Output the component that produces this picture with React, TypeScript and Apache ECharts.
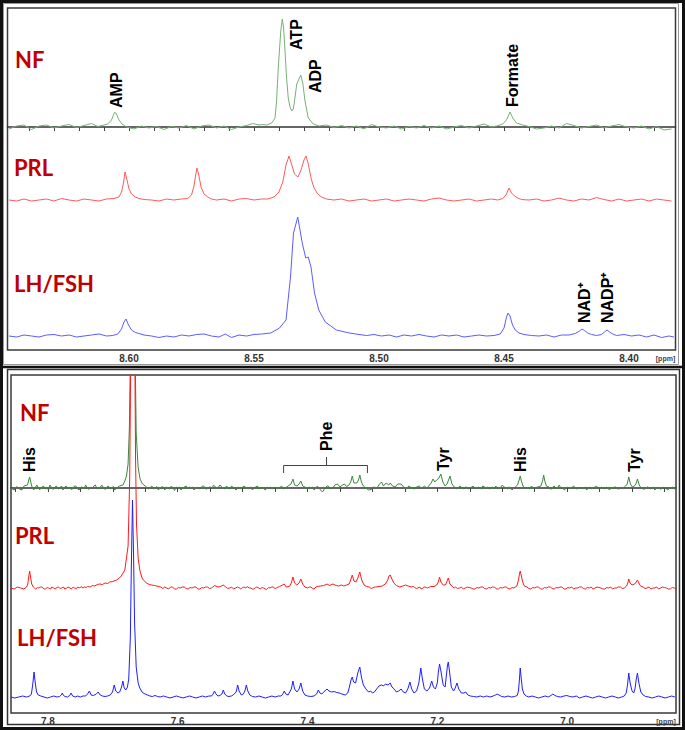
import React, { useEffect, useRef } from "react";
import * as echarts from "echarts";

// ---------- axis ticks & labels ----------
const topTickValues = [8.64, 8.63, 8.62, 8.61, 8.6, 8.59, 8.58, 8.57, 8.56, 8.55, 8.54, 8.53, 8.52, 8.51, 8.5, 8.49, 8.48, 8.47, 8.46, 8.45, 8.44, 8.43, 8.42, 8.41, 8.4, 8.39];
const topLabelValues = [8.6, 8.55, 8.5, 8.45, 8.4];
const bottomTickValues = [7.85, 7.8, 7.75, 7.7, 7.65, 7.6, 7.55, 7.5, 7.45, 7.4, 7.35, 7.3, 7.25, 7.2, 7.15, 7.1, 7.05, 7.0, 6.95, 6.9, 6.85];
const bottomLabelValues = [7.8, 7.6, 7.4, 7.2, 7.0];

const sampleNames = ["NF", "PRL", "LH/FSH"];

// ---------- spectra: flat [ppm, intensity, ppm, intensity, ...] ----------
const nfTop = [8.648,-2, 8.645,1, 8.642,2, 8.639,-2.5, 8.636,1, 8.633,2, 8.630,-1, 8.627,1, 8.624,2.5, 8.621,-0.5, 8.618,1.5, 8.615,3.5, 8.6125,0.5, 8.610,2, 8.6085,3, 8.607,7, 8.6058,14.5, 8.6052,14, 8.604,7, 8.6028,3, 8.601,0, 8.598,-2, 8.595,1, 8.592,-1, 8.589,0.5, 8.586,-2.5, 8.583,0.5, 8.580,-1, 8.577,1.5, 8.574,-2, 8.571,1, 8.568,2, 8.565,-1, 8.562,1, 8.559,-2.5, 8.556,0, 8.553,1.5, 8.5505,3.5, 8.548,2, 8.5465,2.5, 8.5449,2, 8.5429,4, 8.5416,9, 8.541,25, 8.5403,59, 8.5393,96, 8.5387,108, 8.5382,100, 8.5376,76, 8.537,50, 8.5363,29, 8.5356,20, 8.5349,16, 8.5343,18, 8.5339,24, 8.5329,43, 8.5313,52, 8.5305,44, 8.5296,26, 8.5283,9, 8.5263,3, 8.524,1, 8.521,2, 8.518,-0.5, 8.515,1.5, 8.512,-1, 8.509,1, 8.506,-2, 8.503,2.5, 8.500,0, 8.497,-1, 8.494,1, 8.491,-2, 8.488,0.5, 8.485,-1, 8.482,1.5, 8.479,-1, 8.476,1, 8.473,-2, 8.470,0, 8.467,1.5, 8.464,-1, 8.461,1, 8.458,3, 8.455,0, 8.453,1, 8.4505,3, 8.449,7, 8.4476,15, 8.4465,9, 8.445,4, 8.4425,2, 8.440,0.5, 8.437,-2, 8.434,-1, 8.431,1, 8.428,-1, 8.425,3.5, 8.422,1.5, 8.419,-1, 8.416,0.5, 8.413,2, 8.410,-1, 8.407,1, 8.404,2.5, 8.401,0, 8.398,-1, 8.395,1, 8.392,-2, 8.389,0.5, 8.386,-3, 8.383,-2];

const prlTop = [8.648,0, 8.645,-1, 8.642,1, 8.639,-1, 8.636,0, 8.633,1, 8.630,-1, 8.627,1.5, 8.624,0, 8.621,-1, 8.618,1, 8.615,0, 8.612,-1, 8.609,1, 8.606,1.5, 8.604,3, 8.603,8, 8.6022,17, 8.6016,28, 8.6008,20, 8.600,11, 8.599,6, 8.5975,3, 8.596,1.5, 8.594,0.5, 8.591,0, 8.588,-1, 8.585,1, 8.582,0, 8.579,1, 8.5765,1.5, 8.575,5, 8.574,14, 8.5734,24, 8.5728,32, 8.572,24, 8.5712,13, 8.570,6, 8.5685,3, 8.567,1, 8.565,0, 8.562,1, 8.559,-1, 8.556,1, 8.553,1.5, 8.550,0, 8.547,1, 8.5445,1, 8.542,3, 8.540,8, 8.5385,18, 8.5372,35, 8.536,44, 8.535,36, 8.5338,26, 8.5324,23, 8.5312,30, 8.530,40, 8.5292,44, 8.5283,36, 8.5272,22, 8.526,12, 8.5245,6, 8.523,3, 8.521,1, 8.518,0, 8.515,1, 8.512,-1, 8.509,0, 8.506,1, 8.503,-1, 8.500,0, 8.497,1, 8.494,-1, 8.491,0, 8.488,1, 8.485,0, 8.482,-1, 8.479,1, 8.476,2, 8.473,0, 8.470,-1, 8.467,0, 8.464,1, 8.461,-1, 8.458,0, 8.455,1, 8.4525,0, 8.4505,1.5, 8.4492,5, 8.448,12, 8.447,7, 8.4458,4, 8.4445,2, 8.443,0.5, 8.440,0, 8.437,1, 8.434,-1, 8.431,0, 8.428,2, 8.425,0, 8.422,-1, 8.419,1, 8.416,0, 8.413,2.5, 8.410,0.5, 8.407,-1, 8.404,1, 8.401,-1, 8.398,0, 8.395,1, 8.392,-1, 8.389,1, 8.386,0, 8.383,-1];

const lhTop = [8.648,0, 8.645,-1, 8.642,1, 8.639,0, 8.636,-1, 8.633,1, 8.630,1.5, 8.627,0, 8.624,1, 8.621,-1, 8.618,0, 8.615,1, 8.612,2, 8.609,0, 8.6065,0.5, 8.6045,2, 8.603,7, 8.602,14, 8.6012,17, 8.6002,11, 8.599,6, 8.5975,3.5, 8.596,2.5, 8.594,1, 8.591,0, 8.588,-1.5, 8.585,0, 8.582,-1, 8.579,1, 8.576,0, 8.573,1.5, 8.570,2, 8.567,0, 8.564,-1, 8.5615,2, 8.559,-1.5, 8.556,1, 8.553,0, 8.550,1.5, 8.547,2, 8.5433,3, 8.5398,8, 8.5372,16, 8.5354,59, 8.5342,103, 8.5325,119, 8.5307,93, 8.5293,78, 8.5283,79, 8.5272,69, 8.5258,43, 8.5241,26, 8.5215,14, 8.5171,6, 8.5119,3, 8.508,1.5, 8.505,0.5, 8.502,1.5, 8.499,0, 8.496,1, 8.493,-1, 8.490,1, 8.487,0, 8.484,1.5, 8.481,0, 8.478,-1, 8.475,1, 8.472,0, 8.469,1, 8.466,-1, 8.463,0, 8.460,1, 8.457,0, 8.454,0.5, 8.4515,2, 8.450,8, 8.449,19, 8.4484,23, 8.4476,20, 8.4466,11, 8.4455,6, 8.444,3, 8.442,1.5, 8.439,0.5, 8.436,0, 8.433,1, 8.430,-1, 8.427,1, 8.424,1, 8.4215,2.5, 8.4198,5, 8.4188,7, 8.4178,5.5, 8.4165,3, 8.415,1.5, 8.413,0.5, 8.411,1.5, 8.4098,4, 8.4088,6, 8.4078,4, 8.4065,2, 8.405,0.5, 8.402,1.5, 8.399,0, 8.396,1, 8.393,-1, 8.390,1, 8.387,-1.5, 8.384,0, 8.382,-1];

const nfBottom = [7.857,0, 7.852,-2, 7.848,1.5, 7.844,-1, 7.840,-2, 7.837,2, 7.8315,3, 7.8295,8, 7.8282,11, 7.8268,7, 7.825,2, 7.822,-2, 7.819,1, 7.817,3, 7.814,-1, 7.812,-1.5, 7.809,1, 7.807,2, 7.804,-1, 7.802,0, 7.799,-2, 7.797,3, 7.794,0, 7.792,-1.5, 7.789,1, 7.787,2, 7.784,-1, 7.782,0, 7.779,2, 7.777,-2, 7.774,1, 7.772,2, 7.769,-1, 7.767,1, 7.764,-1.5, 7.762,-1, 7.759,2, 7.757,2, 7.754,-1, 7.752,-2, 7.749,1, 7.747,1, 7.744,-1, 7.742,3, 7.739,0, 7.737,-1.5, 7.734,1, 7.732,0, 7.729,2, 7.727,3, 7.724,-1, 7.722,0, 7.719,1, 7.717,3, 7.714,0, 7.712,-1.5, 7.709,1, 7.707,2, 7.704,-1, 7.702,0, 7.699,1.5, 7.697,-2, 7.694,0, 7.690,2, 7.6845,3, 7.6815,7, 7.679,12, 7.6765,24, 7.6745,60, 7.6728,140, 7.671,300, 7.6692,420, 7.6675,300, 7.6657,140, 7.664,55, 7.6611,21, 7.658,9, 7.6543,4, 7.650,2, 7.645,-1, 7.642,1, 7.640,2, 7.637,-1, 7.635,0, 7.632,1.5, 7.630,-2, 7.627,0, 7.625,1, 7.622,1, 7.620,-2, 7.617,1, 7.615,0, 7.612,-1, 7.610,2, 7.607,0, 7.605,-2.5, 7.602,1, 7.600,0, 7.597,1, 7.595,-2, 7.592,0, 7.590,1, 7.587,2, 7.585,-1, 7.582,1, 7.580,0, 7.577,1, 7.575,-2, 7.572,0, 7.570,1, 7.567,-1, 7.565,0, 7.562,2, 7.560,2, 7.557,-1, 7.555,-1, 7.552,1, 7.550,1, 7.547,-0.5, 7.545,3, 7.542,1, 7.540,0, 7.537,1, 7.535,3, 7.532,1, 7.530,0, 7.527,-1, 7.525,2, 7.522,0, 7.520,-1, 7.517,2, 7.515,1, 7.512,-1, 7.510,-2, 7.507,1, 7.505,0, 7.502,-1, 7.500,1, 7.497,2, 7.495,-1, 7.492,1, 7.490,0, 7.487,1, 7.485,-2, 7.482,0, 7.480,1, 7.477,2, 7.475,-1, 7.472,0, 7.470,1, 7.467,-1, 7.465,-2, 7.462,1, 7.460,0, 7.457,1, 7.455,-1, 7.452,0, 7.450,1, 7.447,-1, 7.445,0, 7.442,1, 7.440,2, 7.437,-1, 7.435,0, 7.432,1, 7.430,2, 7.4255,4, 7.4225,9, 7.420,3, 7.416,2, 7.413,4, 7.4103,7, 7.4075,2, 7.404,1, 7.400,-1, 7.397,1, 7.395,0, 7.392,1, 7.390,-2, 7.387,0, 7.385,2, 7.382,0, 7.380,-2, 7.377,-4, 7.373,0, 7.370,2, 7.368,2, 7.365,-1, 7.363,0, 7.360,1, 7.358,3, 7.354,4, 7.350,1, 7.346,3, 7.343,4, 7.340,1.5, 7.336,3, 7.3335,6, 7.3311,12, 7.3285,5, 7.324,5, 7.3215,8, 7.3195,13, 7.317,6, 7.314,2, 7.310,0, 7.306,-2, 7.302,-1.5, 7.298,1, 7.293,0, 7.289,4, 7.286,6, 7.283,2, 7.279,5, 7.275,3, 7.2726,5, 7.269,2, 7.265,1, 7.261,4, 7.2558,4, 7.252,1, 7.248,-1, 7.244,2, 7.240,0, 7.236,-1, 7.232,1, 7.228,2, 7.224,-0.5, 7.220,2, 7.216,0, 7.212,3, 7.2095,5, 7.2067,9, 7.204,6, 7.201,8, 7.1975,10, 7.1946,14, 7.1915,6, 7.188,2, 7.185,4, 7.1805,12, 7.1775,4, 7.174,1, 7.170,-1, 7.167,1, 7.165,2, 7.162,0, 7.160,-1, 7.157,1, 7.155,1, 7.152,-1, 7.150,0, 7.147,1, 7.145,2, 7.142,0, 7.140,-1, 7.137,1, 7.135,0, 7.132,-1, 7.130,2, 7.127,1, 7.125,0, 7.122,1, 7.120,-1, 7.117,0, 7.115,1, 7.112,-1, 7.110,2, 7.107,0, 7.105,-1, 7.102,1, 7.100,3, 7.097,1, 7.095,0, 7.092,-1, 7.090,1, 7.087,0, 7.085,-2, 7.082,0, 7.080,1, 7.0765,3, 7.074,8, 7.0723,12, 7.0705,7, 7.068,2, 7.065,-1, 7.062,1, 7.060,0, 7.057,-1, 7.055,2, 7.052,0, 7.050,-1, 7.047,1, 7.045,1, 7.0405,2, 7.038,7, 7.0362,13, 7.0345,7, 7.032,2, 7.028,1, 7.026,-1, 7.024,-1, 7.022,1, 7.020,2, 7.018,0, 7.016,0, 7.014,1, 7.012,3, 7.010,0, 7.008,0, 7.006,-1, 7.004,-2, 7.002,0, 7.000,1, 6.997,-1, 6.995,0, 6.992,1, 6.990,2, 6.987,0, 6.985,-1, 6.982,0, 6.980,1, 6.977,-1, 6.975,0, 6.972,1, 6.970,-2, 6.967,0, 6.965,1, 6.962,-1, 6.960,0, 6.957,1, 6.955,2, 6.952,0, 6.950,-1, 6.947,1, 6.945,0, 6.942,-1, 6.940,1, 6.937,0, 6.935,-2, 6.932,0, 6.930,0, 6.927,1, 6.925,1, 6.922,-1, 6.920,-1, 6.917,1, 6.915,0, 6.912,1, 6.910,2, 6.9075,4, 6.9051,11, 6.9025,4, 6.8995,1, 6.8965,2, 6.894,4, 6.8917,9, 6.889,3, 6.886,0, 6.883,-1, 6.880,-1, 6.877,1, 6.875,1, 6.872,-1, 6.870,0, 6.867,1, 6.865,-2, 6.862,0, 6.860,1, 6.857,-1, 6.855,-1, 6.852,1, 6.850,0, 6.847,-1, 6.845,-2, 6.842,0, 6.840,0, 6.837,1, 6.835,-1, 6.832,0];

const prlBottom = [7.857,0, 7.852,-1, 7.847,1, 7.842,0, 7.837,-1, 7.833,1, 7.831,4, 7.8295,12, 7.8282,17, 7.8268,11, 7.825,4, 7.8225,1, 7.819,-1, 7.816,0.5, 7.814,0, 7.811,1, 7.809,1, 7.806,-1, 7.804,-1, 7.801,0.5, 7.799,0, 7.796,-1, 7.794,1, 7.791,0, 7.789,-1, 7.786,0.5, 7.784,1, 7.781,-0.5, 7.779,0, 7.776,1, 7.774,-1, 7.771,0, 7.769,1, 7.766,0, 7.764,-1, 7.761,1, 7.759,0, 7.756,-0.5, 7.754,1, 7.751,0, 7.749,1.5, 7.746,0, 7.744,1, 7.741,0.5, 7.739,1.5, 7.735,1, 7.731,2.5, 7.728,2, 7.724,3.5, 7.720,4, 7.716,3.5, 7.712,5, 7.708,4.5, 7.705,6, 7.700,6.5, 7.6943,8, 7.690,10, 7.687,12, 7.6815,18, 7.6765,42, 7.674,110, 7.6715,300, 7.6692,600, 7.6668,300, 7.665,130, 7.6635,63, 7.661,30, 7.6585,18, 7.655,10, 7.653,8, 7.6482,5, 7.644,3.5, 7.640,3, 7.636,2.5, 7.6328,2, 7.629,1.5, 7.626,1, 7.623,-0.5, 7.620,1, 7.617,0, 7.614,-1, 7.611,1, 7.608,1, 7.605,-1, 7.602,-1, 7.599,0.5, 7.596,0, 7.593,1, 7.590,1, 7.587,-0.5, 7.584,-1, 7.581,0.5, 7.578,0, 7.575,1, 7.572,1, 7.569,-1, 7.566,-1, 7.563,0.5, 7.560,0, 7.557,1, 7.554,1, 7.551,-0.5, 7.548,0, 7.543,2.5, 7.538,1, 7.534,1.5, 7.530,3, 7.526,1, 7.523,-0.5, 7.520,0, 7.517,1, 7.514,-1, 7.511,0, 7.508,1, 7.505,0, 7.503,-1, 7.500,0.5, 7.498,1, 7.495,0, 7.493,1.5, 7.490,0, 7.488,0, 7.485,-1, 7.483,-1, 7.480,0.5, 7.478,1, 7.475,0, 7.473,-1, 7.470,0.5, 7.468,0, 7.465,-1, 7.463,-1.5, 7.460,0.5, 7.458,0, 7.455,1, 7.453,1, 7.450,-0.5, 7.448,0, 7.445,1, 7.443,1.5, 7.4385,3, 7.4358,4, 7.433,1, 7.428,1.5, 7.425,5, 7.4225,11, 7.420,5, 7.4165,3, 7.413,5, 7.4103,9, 7.4075,4, 7.404,1, 7.400,0, 7.397,1, 7.395,1, 7.392,-0.5, 7.390,-1, 7.387,1, 7.385,1.5, 7.380,2, 7.375,2.5, 7.370,4, 7.366,2.5, 7.361,4, 7.356,2.5, 7.352,2, 7.348,3, 7.344,2, 7.340,3, 7.336,4, 7.3335,8, 7.3311,13, 7.3285,7, 7.3255,6, 7.3225,10, 7.3195,16, 7.3165,8, 7.313,3, 7.309,1.5, 7.305,1, 7.302,-0.5, 7.300,0, 7.297,1, 7.295,1, 7.290,1.5, 7.285,2, 7.280,4, 7.2765,8, 7.2745,12, 7.2726,13, 7.270,9, 7.267,5, 7.263,2.5, 7.258,1, 7.253,2, 7.249,3, 7.245,2, 7.240,1, 7.237,1.5, 7.235,0.5, 7.232,-0.5, 7.230,0, 7.227,1, 7.225,-1, 7.222,0, 7.220,1, 7.217,0.5, 7.215,0, 7.212,1, 7.210,1.5, 7.205,1.5, 7.201,3, 7.1985,6, 7.1966,11, 7.1945,6, 7.191,3, 7.1875,3, 7.1855,6, 7.1832,10, 7.1805,4, 7.177,1.5, 7.174,0, 7.172,1, 7.169,-0.5, 7.166,0, 7.163,1, 7.160,-1, 7.157,0, 7.154,1, 7.151,0.5, 7.148,0, 7.145,-1, 7.142,-1, 7.139,0.5, 7.136,0, 7.133,1, 7.130,1, 7.127,-0.5, 7.124,-1, 7.121,0.5, 7.118,0, 7.115,1, 7.112,1, 7.109,-1, 7.106,-1, 7.103,0.5, 7.100,0, 7.097,1, 7.094,1, 7.091,-0.5, 7.088,-1, 7.085,0.5, 7.082,0, 7.0775,2, 7.075,8, 7.0735,14, 7.0723,17, 7.0705,12, 7.0685,6, 7.066,2, 7.062,1, 7.059,-0.5, 7.056,-1, 7.053,0.5, 7.050,0, 7.047,1, 7.044,1, 7.041,-1, 7.038,-1, 7.035,0.5, 7.032,0, 7.029,1, 7.026,1, 7.023,-0.5, 7.020,-1, 7.017,0.5, 7.014,0, 7.011,1, 7.008,1, 7.005,-1, 7.002,-1, 6.999,0.5, 6.996,0, 6.993,1, 6.990,-1, 6.987,0, 6.984,0, 6.981,1, 6.978,1, 6.975,-0.5, 6.972,-1, 6.969,0.5, 6.966,0, 6.963,1, 6.960,-1, 6.957,0, 6.954,1, 6.951,0.5, 6.948,0, 6.945,-1, 6.942,-1, 6.939,0.5, 6.936,0, 6.933,1, 6.930,-1, 6.927,0, 6.924,0, 6.921,1, 6.918,1, 6.915,-0.5, 6.912,0, 6.9085,2, 6.9065,5, 6.9051,9, 6.903,5, 6.900,3, 6.896,4, 6.8935,6, 6.8917,8, 6.8895,5, 6.887,2, 6.883,1, 6.880,-0.5, 6.877,0, 6.874,1, 6.871,-1, 6.868,0, 6.865,0, 6.862,1, 6.859,-1, 6.856,0, 6.853,1, 6.850,0.5, 6.847,0, 6.844,-1, 6.841,-1, 6.838,0.5, 6.835,0, 6.832,-1];

const lhBottom = [7.857,0, 7.851,-1, 7.845,0, 7.839,1, 7.833,0, 7.828,1, 7.8255,3, 7.8235,12, 7.8214,25, 7.8195,14, 7.8175,5, 7.815,2, 7.811,1, 7.806,0, 7.801,-1, 7.796,0, 7.791,1, 7.786,0, 7.782,0.5, 7.7795,2, 7.7778,4, 7.776,1.5, 7.7735,0.5, 7.770,0, 7.7665,1.5, 7.7643,4, 7.762,1, 7.758,0, 7.754,1, 7.750,0, 7.746,1, 7.742,1, 7.739,3, 7.7361,6, 7.7335,2, 7.730,1.5, 7.7255,3, 7.7226,5, 7.7195,2, 7.716,1, 7.712,0.5, 7.708,1, 7.704,2, 7.7005,5, 7.6978,12, 7.6955,6, 7.692,4, 7.6895,5, 7.6865,10, 7.6845,16, 7.6825,9, 7.680,7, 7.6775,10, 7.6755,18, 7.673,60, 7.6715,130, 7.6697,197, 7.668,140, 7.6665,75, 7.664,30, 7.661,14, 7.6585,9, 7.655,5, 7.652,3.5, 7.650,3, 7.6465,2, 7.643,1, 7.639,0.5, 7.635,1.5, 7.631,0.5, 7.627,0, 7.622,1, 7.617,0, 7.612,-1, 7.607,0, 7.602,1, 7.597,0, 7.592,-1, 7.587,0, 7.582,1, 7.577,0, 7.572,-1, 7.567,0, 7.562,1, 7.557,0, 7.552,1, 7.548,1, 7.5455,3, 7.5434,6, 7.541,3, 7.538,1, 7.535,1.5, 7.532,3, 7.5298,7, 7.5275,3, 7.5245,1, 7.521,0.5, 7.5175,1, 7.5145,2, 7.510,5, 7.5077,12, 7.5055,6, 7.502,2, 7.499,3, 7.4965,6, 7.4943,12, 7.492,6, 7.489,2, 7.485,0.5, 7.480,0, 7.475,1, 7.470,0, 7.465,-1, 7.460,0, 7.455,1, 7.450,0, 7.445,1, 7.441,1, 7.438,3, 7.4358,6, 7.4335,3, 7.430,2, 7.425,8, 7.4225,16, 7.420,8, 7.4165,5, 7.413,8, 7.4103,14, 7.4075,6, 7.404,2, 7.400,1, 7.395,0.5, 7.390,1, 7.386,3, 7.3834,7, 7.381,4, 7.378,3, 7.375,5, 7.372,7, 7.370,8, 7.367,6, 7.363,5, 7.359,5.5, 7.355,4.5, 7.351,4, 7.347,3, 7.342,2, 7.338,4, 7.3355,10, 7.333,17, 7.3311,20, 7.329,15, 7.326,14, 7.3225,24, 7.3195,30, 7.317,20, 7.314,12, 7.310,8, 7.306,5, 7.3028,6, 7.300,4, 7.297,5, 7.2935,8, 7.290,11, 7.286,12, 7.283,11, 7.280,13, 7.276,12, 7.2726,14, 7.270,10, 7.2665,8, 7.263,5, 7.2595,6, 7.2558,8, 7.2525,5, 7.249,4, 7.2455,8, 7.2423,15, 7.2395,8, 7.236,4, 7.232,6, 7.2285,14, 7.2255,29, 7.223,18, 7.220,8, 7.216,6, 7.212,9, 7.2087,16, 7.206,10, 7.203,8, 7.200,14, 7.1985,25, 7.1966,33, 7.1945,26, 7.191,12, 7.188,10, 7.186,22, 7.1845,31, 7.1832,35, 7.1815,27, 7.1785,10, 7.175,6, 7.1725,9, 7.1698,14, 7.167,8, 7.163,4, 7.159,4, 7.1563,5, 7.153,2, 7.149,1, 7.144,0.5, 7.139,0, 7.134,1, 7.129,0, 7.124,1, 7.119,0, 7.114,1, 7.1105,2, 7.108,3, 7.105,2, 7.101,0.5, 7.096,0, 7.091,1, 7.086,0, 7.081,0.5, 7.077,1.5, 7.075,6, 7.0735,18, 7.0723,29, 7.071,20, 7.069,8, 7.0665,3, 7.063,1, 7.059,0, 7.054,1, 7.049,0, 7.044,-1, 7.039,0, 7.034,1, 7.029,0, 7.025,1.5, 7.022,3, 7.019,1.5, 7.015,0.5, 7.010,0, 7.005,1, 7.0005,1.5, 6.996,0.5, 6.991,0, 6.986,1, 6.981,-1, 6.976,0, 6.971,1, 6.966,0, 6.961,-1, 6.956,0, 6.951,1, 6.946,0, 6.941,-1, 6.936,0, 6.931,1, 6.926,0, 6.921,-1, 6.916,0, 6.912,1, 6.909,4, 6.907,12, 6.9051,24, 6.903,14, 6.900,6, 6.8975,4, 6.8955,8, 6.8935,18, 6.8917,24, 6.8895,14, 6.8865,5, 6.883,2, 6.879,0.5, 6.874,0, 6.869,-1, 6.864,0, 6.859,1, 6.854,0, 6.849,-1, 6.844,0, 6.839,1, 6.834,0];

// ---------- peak annotations (text + ppm) ----------
const topPeakNames = ["AMP", "ATP", "ADP", "Formate", "NAD\u207A", "NADP\u207A"];
const topPeakPpm = [8.6052, 8.5332, 8.5256, 8.4468, 8.418, 8.4088];
const bottomPeakNames = ["His", "Phe", "Tyr", "His", "Tyr"];
const bottomPeakPpm = [7.8277, 7.3708, 7.1908, 7.0723, 6.8969];
const pheRange = [7.4369, 7.3077];

// ---------- layout ----------
const W = 685;
const H = 730;
const panels = [
  { left: 7.5, top: 8, width: 668, height: 342, xMin: 8.3814, xMax: 8.6486, baselines: [223, 150, 14],
    ticks: topTickValues, labels: topLabelValues, digits: 2,
    spectra: [nfTop, prlTop, lhTop], colors: ["#78b078", "#ff5a5a", "#5c5cff"],
    nameY: [59, 167, 283], nameX: [15, 14, 14] },
  { left: 11, top: 375, width: 665, height: 338, xMin: 6.8323, xMax: 7.8569, baselines: [225, 125, 16],
    ticks: bottomTickValues, labels: bottomLabelValues, digits: 1,
    spectra: [nfBottom, prlBottom, lhBottom], colors: ["#3b873b", "#ff1a1a", "#1f1fff"],
    nameY: [412, 535, 637], nameX: [20, 15, 17] },
];
const topLabelBottomY = [108, 50, 93, 107, 323, 323];
const bottomLabelBottomY = [472, 451, 471, 472, 472];

function pairs(a: number[]): number[][] {
  const out: number[][] = [];
  for (let i = 0; i + 1 < a.length; i += 2) out.push([a[i], a[i + 1]]);
  return out;
}

export default function App() {
  const ref = useRef<HTMLDivElement>(null);

  useEffect(() => {
    document.body.style.margin = "0";
    if (!ref.current) return;
    const chart = echarts.init(ref.current, undefined, { renderer: "svg" });

    const grids: any[] = [];
    const xAxes: any[] = [];
    const yAxes: any[] = [];
    const series: any[] = [];

    panels.forEach((p, pi) => {
      p.spectra.forEach((spec, si) => {
        const idx = pi * 3 + si;
        grids.push({
          left: p.left, top: p.top, width: p.width, height: p.height,
          show: si === 0, borderColor: "#3a3a3a", borderWidth: 1.5, backgroundColor: "transparent",
        });
        xAxes.push({
          type: "value", gridIndex: idx, min: p.xMin, max: p.xMax, inverse: true,
          show: si === 0,
          axisLine: { show: true, lineStyle: { color: "#333", width: 1.5 } },
          axisTick: { show: true, inside: false, length: 4, customValues: p.ticks, lineStyle: { color: "#444", width: 1 } },
          axisLabel: {
            show: true, customValues: p.labels, margin: 3,
            formatter: (v: number) => v.toFixed(p.digits),
            fontSize: 10, fontWeight: "bold", color: "#333", fontFamily: "Liberation Sans, Arial, sans-serif",
          },
          splitLine: { show: false },
        });
        const b = p.baselines[si];
        yAxes.push({ type: "value", gridIndex: idx, min: -b, max: p.height - b, show: false, splitLine: { show: false } });
        series.push({
          type: "line", name: sampleNames[si] + "-" + pi, xAxisIndex: idx, yAxisIndex: idx,
          data: pairs(spec), showSymbol: false, symbol: "none", clip: true, silent: true,
          lineStyle: { color: p.colors[si], width: 1 }, z: 2 + si,
        });
      });
    });

    chart.setOption({
      animation: false,
      backgroundColor: "#ffffff",
      grid: grids, xAxis: xAxes, yAxis: yAxes, series,
    });

    const graphic: any[] = [];
    // frames
    graphic.push({ type: "rect", shape: { x: 3.5, y: 3.5, width: 675, height: 361 }, style: { fill: "none", stroke: "#999", lineWidth: 1 }, silent: true, z: 1 });
    graphic.push({ type: "rect", shape: { x: 7.5, y: 369.5, width: 672, height: 355 }, style: { fill: "none", stroke: "#333", lineWidth: 1.5 }, silent: true, z: 1 });
    graphic.push({ type: "line", shape: { x1: 1, y1: 367, x2: 684, y2: 367 }, style: { stroke: "#111", lineWidth: 2.5 }, silent: true, z: 1 });
    graphic.push({ type: "rect", shape: { x: 1.5, y: 1.5, width: 682, height: 727 }, style: { fill: "none", stroke: "#111", lineWidth: 3 }, silent: true, z: 1 });

    // sample names
    panels.forEach((p) => {
      sampleNames.forEach((n, si) => {
        graphic.push({
          type: "text", x: p.nameX[si], y: p.nameY[si], silent: true, z: 10,
          style: { text: n, fill: "#c00000", font: "bold 22px Lato, 'Open Sans', sans-serif", textAlign: "left", textVerticalAlign: "middle", align: "left", verticalAlign: "middle" },
        });
      });
      graphic.push({
        type: "text", x: p.left + p.width - 10, y: p.top + p.height + 8, silent: true, z: 10,
        style: { text: "[ppm]", fill: "#444", font: "bold 7px 'Liberation Sans', Arial, sans-serif", textAlign: "center", textVerticalAlign: "middle", align: "center", verticalAlign: "middle" },
      });
    });

    const addRotated = (text: string, x: number, yBottom: number) => {
      graphic.push({
        type: "text", x, y: yBottom, rotation: Math.PI / 2, silent: true, z: 10,
        style: { text, fill: "#000", font: "bold 16px 'Liberation Sans', Arial, sans-serif", textAlign: "left", textVerticalAlign: "middle", align: "left", verticalAlign: "middle" },
      });
    };
    topPeakNames.forEach((t, i) => {
      const x = chart.convertToPixel({ xAxisIndex: 0 }, topPeakPpm[i]) as number;
      addRotated(t, x, topLabelBottomY[i]);
    });
    bottomPeakNames.forEach((t, i) => {
      const x = chart.convertToPixel({ xAxisIndex: 3 }, bottomPeakPpm[i]) as number;
      addRotated(t, x, bottomLabelBottomY[i]);
    });
    // Phe bracket
    const bx1 = chart.convertToPixel({ xAxisIndex: 3 }, pheRange[0]) as number;
    const bx2 = chart.convertToPixel({ xAxisIndex: 3 }, pheRange[1]) as number;
    const bxm = chart.convertToPixel({ xAxisIndex: 3 }, bottomPeakPpm[1]) as number;
    graphic.push({ type: "polyline", shape: { points: [[bx1, 473], [bx1, 465.5], [bx2, 465.5], [bx2, 473]] }, style: { fill: "none", stroke: "#444", lineWidth: 1 }, silent: true, z: 10 });
    graphic.push({ type: "line", shape: { x1: bxm, y1: 465.5, x2: bxm, y2: 457 }, style: { stroke: "#444", lineWidth: 1 }, silent: true, z: 10 });

    chart.setOption({ graphic });

    return () => chart.dispose();
  }, []);

  return <div ref={ref} style={{ width: W, height: H }} />;
}
